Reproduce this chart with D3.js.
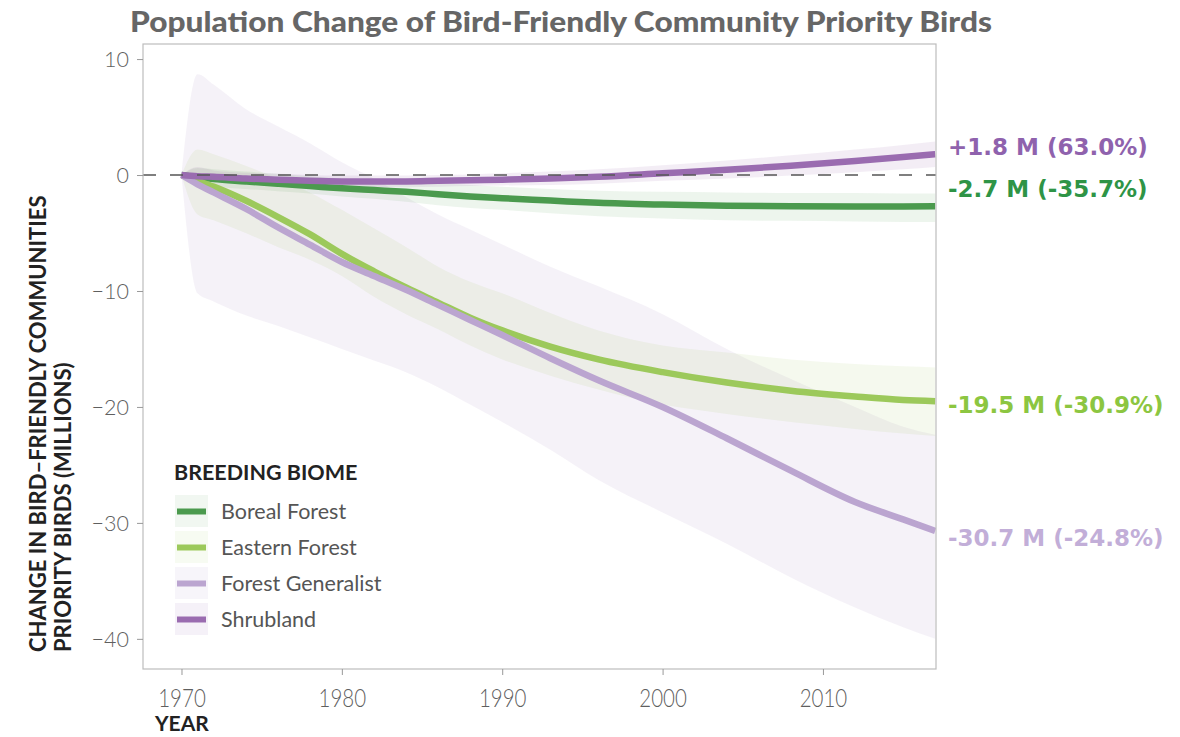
<!DOCTYPE html>
<html>
<head>
<meta charset="utf-8">
<script src="https://cdn.jsdelivr.net/npm/d3@7"></script>
<style>
  html, body { margin: 0; padding: 0; background: #fff; }
  svg { display: block; }
</style>
</head>
<body>
<svg id="chart" width="1180" height="737"></svg>
<script>
// Years at which each biome's trajectory is sampled
const years = [1970, 1971, 1972, 1974, 1976, 1978, 1980, 1982, 1984, 1986, 1988, 1990, 1993, 1996, 2000, 2004, 2008, 2012, 2015, 2017];

const biomes = ["Boreal Forest", "Eastern Forest", "Forest Generalist", "Shrubland"];

// Change in population (millions) with credible-interval bounds
const borealMid  = [0, -0.2, -0.35, -0.55, -0.75, -0.95, -1.15, -1.3, -1.45, -1.65, -1.85, -2.0, -2.2, -2.4, -2.55, -2.65, -2.7, -2.72, -2.72, -2.7];
const borealHigh = [0, 0.6, 0.5, 0.3, 0.1, -0.1, -0.3, -0.45, -0.6, -0.7, -0.85, -1.0, -1.2, -1.35, -1.45, -1.5, -1.55, -1.55, -1.6, -1.6];
const borealLow  = [0, -0.9, -1.0, -1.2, -1.4, -1.6, -1.85, -2.05, -2.3, -2.6, -2.85, -3.0, -3.3, -3.55, -3.75, -3.9, -3.95, -4.0, -4.05, -4.05];

const easternMid  = [0, -0.5, -1.0, -2.2, -3.6, -5.1, -6.8, -8.3, -9.7, -11.0, -12.3, -13.4, -14.8, -15.9, -17.0, -17.9, -18.6, -19.1, -19.4, -19.5];
const easternHigh = [0, 2.2, 1.8, 0.8, -0.3, -1.5, -3.0, -4.6, -6.2, -7.9, -9.2, -10.2, -11.9, -13.4, -14.7, -15.3, -15.9, -16.3, -16.5, -16.6];
const easternLow  = [0, -3.4, -3.9, -5.0, -6.2, -7.3, -8.7, -10.5, -12.0, -13.3, -14.7, -15.9, -17.3, -18.5, -19.8, -20.6, -21.3, -21.9, -22.3, -22.5];

const generalistMid  = [0, -0.8, -1.5, -2.9, -4.5, -6.0, -7.5, -8.7, -9.9, -11.2, -12.5, -13.8, -15.8, -17.7, -20.0, -22.7, -25.5, -28.2, -29.7, -30.7];
const generalistHigh = [0, 8.7, 7.8, 5.7, 4.2, 2.75, 1.1, -0.3, -1.9, -3.4, -4.7, -6.0, -7.9, -9.6, -12.0, -15.0, -17.6, -20.0, -21.7, -22.4];
const generalistLow  = [0, -10.2, -10.9, -12.1, -13.0, -14.0, -15.0, -16.0, -17.0, -18.3, -19.8, -21.3, -23.7, -26.3, -29.1, -31.8, -34.7, -37.3, -39.0, -40.0];

const shrubMid  = [0, -0.1, -0.15, -0.3, -0.4, -0.5, -0.55, -0.55, -0.55, -0.5, -0.45, -0.4, -0.3, -0.15, 0.15, 0.45, 0.8, 1.2, 1.55, 1.8];
const shrubHigh = [0, 0.7, 0.4, 0.2, 0.1, 0, -0.05, -0.05, -0.05, 0, 0.05, 0.15, 0.3, 0.5, 0.85, 1.25, 1.7, 2.2, 2.6, 2.9];
const shrubLow  = [0, -0.6, -0.6, -0.7, -0.8, -0.9, -1.0, -1.05, -1.05, -1.0, -0.95, -0.9, -0.85, -0.75, -0.5, -0.3, -0.05, 0.25, 0.5, 0.7];

const endLabels = ["-2.7 M (-35.7%)", "-19.5 M (-30.9%)", "-30.7 M (-24.8%)", "+1.8 M (63.0%)"];

const xTicks = [1970, 1980, 1990, 2000, 2010];
const yTicks = [10, 0, -10, -20, -30, -40];

// Styling per biome
const lineColors  = ["#4b9a4e", "#9cc95b", "#bba5d0", "#9a6cb0"];
const labelColors = ["#2e9446", "#8cc641", "#c2aed8", "#8f62ad"];
const bandOpacity = [0.1, 0.1, 0.14, 0.12];
const labelNudge  = [-9, 12, 15, 1];

const series = biomes.map((name, i) => ({
  name,
  mid:  [borealMid, easternMid, generalistMid, shrubMid][i],
  high: [borealHigh, easternHigh, generalistHigh, shrubHigh][i],
  low:  [borealLow, easternLow, generalistLow, shrubLow][i],
  color: lineColors[i],
  labelColor: labelColors[i],
  bandOpacity: bandOpacity[i],
  label: endLabels[i],
  nudge: labelNudge[i]
}));

const svg = d3.select("#chart");
const panel = { left: 143, right: 936, top: 44, bottom: 669 };

const x = d3.scaleLinear().domain([1967.6, 2017.05]).range([panel.left, panel.right]);
const y = d3.scaleLinear().domain([-42.6, 11.3]).range([panel.bottom, panel.top]);

svg.append("defs").append("clipPath").attr("id", "plot-clip")
  .append("rect")
  .attr("x", panel.left).attr("y", panel.top)
  .attr("width", panel.right - panel.left).attr("height", panel.bottom - panel.top);

// Title
svg.append("text")
  .attr("x", 130).attr("y", 32)
  .attr("textLength", 862).attr("lengthAdjust", "spacingAndGlyphs")
  .style("font-family", "Lato, sans-serif").style("font-weight", 900)
  .style("font-size", "28px").style("fill", "#666")
  .text("Population Change of Bird-Friendly Community Priority Birds");

const plot = svg.append("g").attr("clip-path", "url(#plot-clip)");

// Uncertainty bands (widest first)
const area = d3.area()
  .x((d) => x(d.year))
  .y0((d) => y(d.low))
  .y1((d) => y(d.high))
  .curve(d3.curveMonotoneX);

const bandOrder = [2, 1, 0, 3];
bandOrder.forEach((i) => {
  const s = series[i];
  const pts = years.map((yr, k) => ({ year: yr, low: s.low[k], high: s.high[k] }));
  plot.append("path")
    .attr("d", area(pts))
    .attr("fill", s.color)
    .attr("fill-opacity", s.bandOpacity);
});

// Trend lines
const line = d3.line()
  .x((d) => x(d.year))
  .y((d) => y(d.value))
  .curve(d3.curveMonotoneX);

series.forEach((s) => {
  const pts = years.map((yr, k) => ({ year: yr, value: s.mid[k] }));
  plot.append("path")
    .attr("d", line(pts))
    .attr("fill", "none")
    .attr("stroke", s.color)
    .attr("stroke-width", 6.5)
    .attr("stroke-linejoin", "round");
});

// Zero reference line
svg.append("line")
  .attr("x1", panel.left).attr("x2", panel.right)
  .attr("y1", y(0)).attr("y2", y(0))
  .attr("stroke", "#555").attr("stroke-width", 1.4)
  .attr("stroke-dasharray", "13,14");

// Panel border
svg.append("rect")
  .attr("x", panel.left).attr("y", panel.top)
  .attr("width", panel.right - panel.left).attr("height", panel.bottom - panel.top)
  .attr("fill", "none").attr("stroke", "#bdbdbd").attr("stroke-width", 1.2);

// Axes
const yAxis = svg.append("g")
  .attr("transform", `translate(${panel.left},0)`)
  .call(d3.axisLeft(y).tickValues(yTicks).tickSize(6).tickPadding(8));
yAxis.select(".domain").remove();
yAxis.selectAll(".tick line").attr("stroke", "#999");
yAxis.selectAll(".tick text")
  .attr("dy", "0.36em")
  .style("font-family", "Lato, sans-serif").style("font-weight", 300)
  .style("font-size", "21.5px").style("fill", "#5f5f5f");

const xAxis = svg.append("g")
  .attr("transform", `translate(0,${panel.bottom})`)
  .call(d3.axisBottom(x).tickValues(xTicks).tickFormat(d3.format("d")).tickSize(6).tickPadding(14));
xAxis.select(".domain").remove();
xAxis.selectAll(".tick line").attr("stroke", "#999");
xAxis.selectAll(".tick text")
  .attr("transform", "scale(0.82,1)")
  .style("font-family", "Lato, sans-serif").style("font-weight", 300)
  .style("font-size", "25px").style("fill", "#5f5f5f");

// Axis titles
svg.append("text")
  .attr("x", 155).attr("y", 731)
  .style("font-family", "Lato, sans-serif").style("font-weight", 700)
  .style("font-size", "21px").style("fill", "#222")
  .text("YEAR");

const yTitle = svg.append("g").attr("transform", "translate(0,652) rotate(-90)");
yTitle.append("text")
  .attr("x", 0).attr("y", 45.5)
  .style("font-family", "Lato, sans-serif").style("font-weight", 700)
  .style("font-size", "22px").style("fill", "#222")
  .text("CHANGE IN BIRD–FRIENDLY COMMUNITIES");
yTitle.append("text")
  .attr("x", 0).attr("y", 70.5)
  .style("font-family", "Lato, sans-serif").style("font-weight", 700)
  .style("font-size", "22px").style("fill", "#222")
  .text("PRIORITY BIRDS (MILLIONS)");

// End-of-line value labels
series.forEach((s) => {
  const last = s.mid[s.mid.length - 1];
  svg.append("text")
    .attr("x", 948)
    .attr("y", y(last) + s.nudge)
    .style("font-family", "'DejaVu Sans', sans-serif").style("font-weight", 700)
    .style("font-size", "23px").style("fill", s.labelColor)
    .text(s.label);
});

// Legend
const legend = svg.append("g").attr("transform", "translate(175,480)");
legend.append("text")
  .attr("x", -1).attr("y", 0)
  .style("font-family", "Lato, sans-serif").style("font-weight", 700)
  .style("font-size", "21.5px").style("fill", "#222")
  .text("BREEDING BIOME");

series.forEach((s, i) => {
  const row = legend.append("g").attr("transform", `translate(0,${15 + i * 36})`);
  row.append("rect")
    .attr("x", 0).attr("y", 0).attr("width", 33).attr("height", 32)
    .attr("fill", s.color).attr("fill-opacity", s.bandOpacity * 0.8);
  row.append("line")
    .attr("x1", 2).attr("x2", 31).attr("y1", 16.5).attr("y2", 16.5)
    .attr("stroke", s.color).attr("stroke-width", 6);
  row.append("text")
    .attr("x", 46).attr("y", 23.5)
    .style("font-family", "Lato, sans-serif").style("font-weight", 400)
    .style("font-size", "21.5px").style("fill", "#555")
    .text(s.name);
});
</script>
</body>
</html>
